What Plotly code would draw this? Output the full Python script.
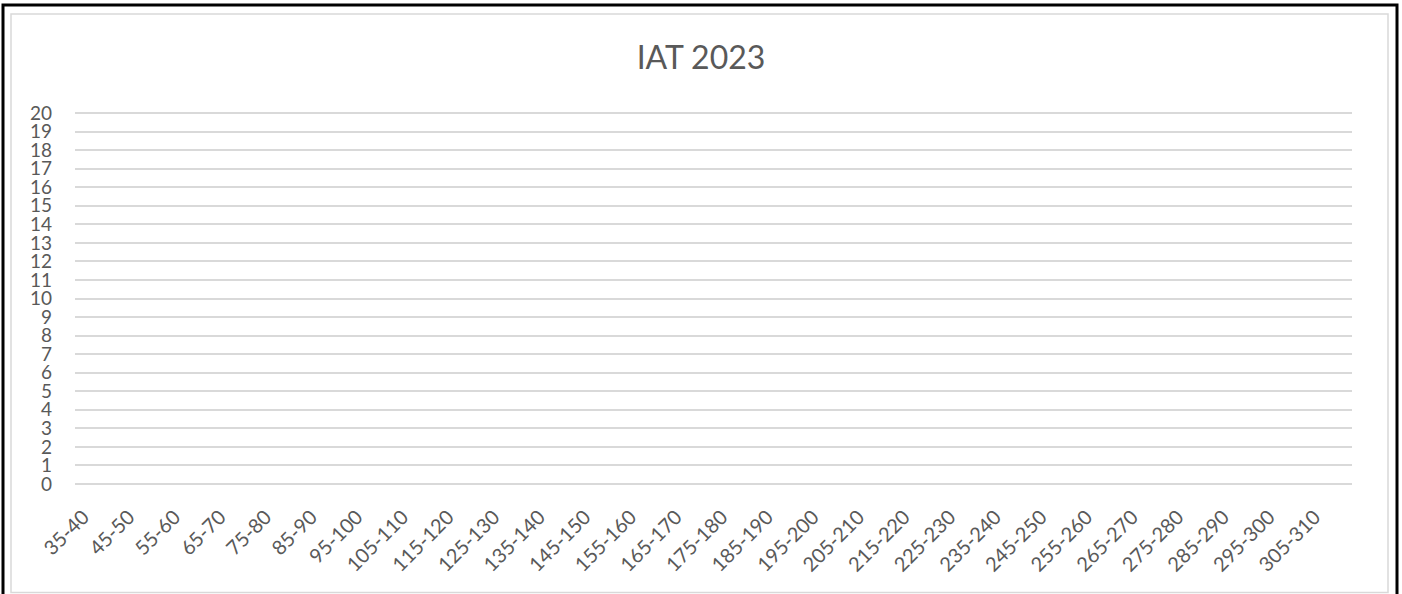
import plotly.graph_objects as go

categories = ["35-40", "45-50", "55-60", "65-70", "75-80", "85-90", "95-100", "105-110",
              "115-120", "125-130", "135-140", "145-150", "155-160", "165-170", "175-180",
              "185-190", "195-200", "205-210", "215-220", "225-230", "235-240", "245-250",
              "255-260", "265-270", "275-280", "285-290", "295-300", "305-310"]
values = [0] * len(categories)
y_ticks = list(range(0, 21))

W, H = 1402, 594
L, R, T, B = 75, 50, 111, 108
pw, ph = W - L - R, H - T - B
pad_u = 2 / 18.55  # small headroom so edge gridlines are drawn

def px(x):
    return (x - L) / pw

def py(y):
    return (H - B - y) / ph

fig = go.Figure(go.Bar(x=categories, y=values, marker_color="#4472C4",
                       marker_line_width=0))

fig.update_layout(
    width=W, height=H,
    margin=dict(l=L, r=R, t=T, b=B, pad=0),
    paper_bgcolor="white", plot_bgcolor="white",
    font=dict(family="Lato, Open Sans, sans-serif", color="#595959", size=19),
    title=dict(text="IAT 2023", x=0.5, xanchor="center", y=1 - 58 / H, yanchor="middle",
               font=dict(size=32, color="#595959")),
    showlegend=False,
    xaxis=dict(tickangle=-45, showgrid=False, showline=False, zeroline=False,
               ticks="", ticklabelstandoff=0, tickfont=dict(size=20),
               tickmode="array", tickvals=categories,
               ticktext=[c + "\u00a0\u00a0\u00a0\u00a0" for c in categories]),
    yaxis=dict(range=[-pad_u, 20 + pad_u], tickvals=y_ticks, showgrid=True,
               gridcolor="#d9d9d9", gridwidth=1.5, zeroline=False, showline=False,
               ticks="", ticklabelstandoff=22, tickfont=dict(size=19)),
    shapes=[
        dict(type="rect", xref="paper", yref="paper",
             x0=px(11), x1=px(1388), y0=py(592.5), y1=py(14),
             line=dict(color="#d9d9d9", width=1.5), layer="below"),
        dict(type="rect", xref="paper", yref="paper",
             x0=px(3), x1=px(1397), y0=py(597), y1=py(5),
             line=dict(color="black", width=3)),
    ],
)

fig.write_html("out.html", config={"displayModeBar": False},
               post_script="document.body.style.margin='0';document.body.style.overflow='hidden';")
